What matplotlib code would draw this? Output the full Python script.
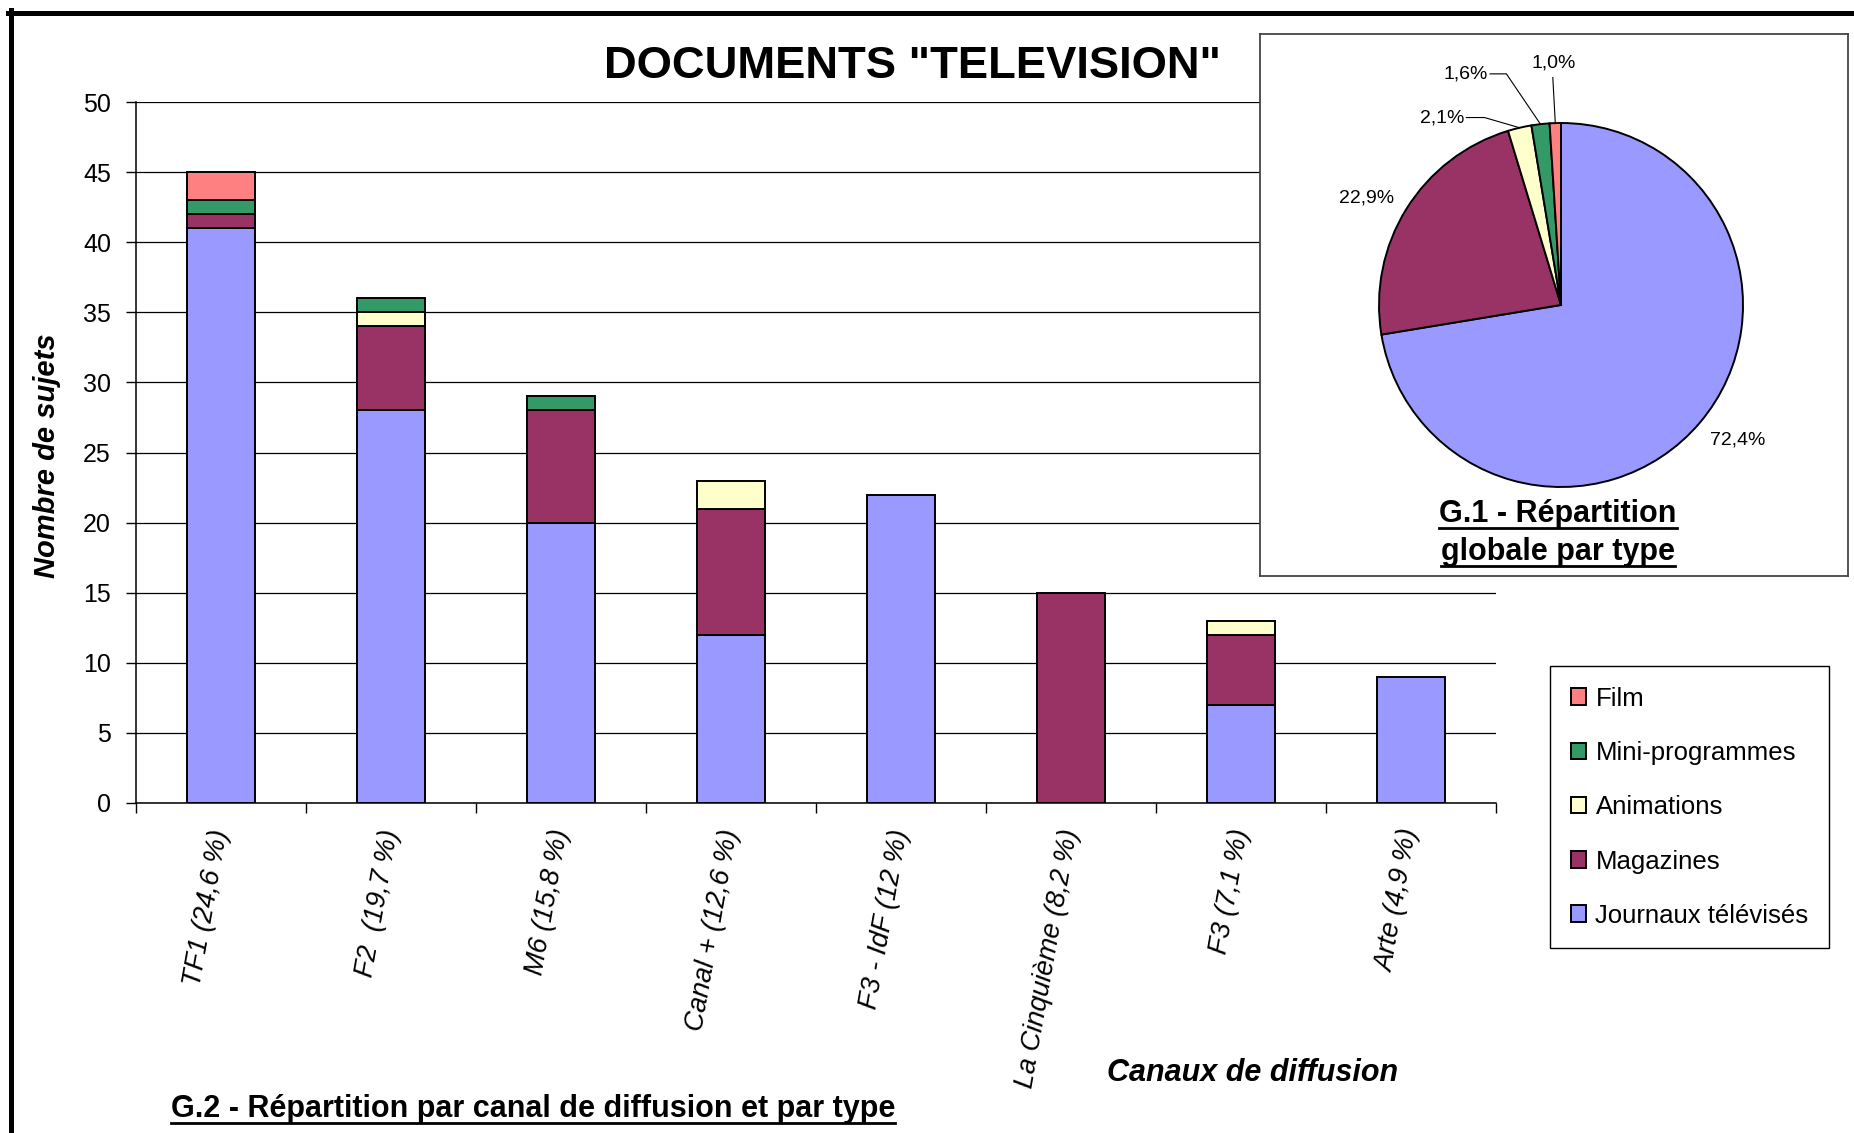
import numpy as np
import matplotlib
matplotlib.use('Agg')
import matplotlib.pyplot as plt
from matplotlib.lines import Line2D

plt.rcParams['font.family'] = ['Liberation Sans', 'DejaVu Sans']

# Data
canaux = ['TF1 (24,6 %)', 'F2  (19,7 %)', 'M6 (15,8 %)', 'Canal + (12,6 %)',
          'F3 - IdF (12 %)', 'La Cinquième (8,2 %)', 'F3 (7,1 %)', 'Arte (4,9 %)']
types = ['Journaux télévisés', 'Magazines', 'Animations', 'Mini-programmes', 'Film']
couleurs = ['#9999FF', '#993366', '#FFFFCC', '#339966', '#FF8080']

journaux = [41, 28, 20, 12, 22, 0, 7, 9]
magazines = [1, 6, 8, 9, 0, 15, 5, 0]
animations = [0, 1, 0, 2, 0, 0, 1, 0]
mini_prog = [1, 1, 1, 0, 0, 0, 0, 0]
film = [2, 0, 0, 0, 0, 0, 0, 0]

pie_pct = [72.4, 22.9, 2.1, 1.6, 1.0]
pie_labels = ['72,4%', '22,9%', '2,1%', '1,6%', '1,0%']

W, H = 1854, 1133
fig = plt.figure(figsize=(W / 100, H / 100), dpi=100)

# Bar chart G.2
ax = fig.add_axes([136 / W, 1 - 803 / H, (1496 - 136) / W, (803 - 102) / H])
x = np.arange(len(canaux))
bottom = np.zeros(len(canaux))
handles = []
for vals, col, lab in zip([journaux, magazines, animations, mini_prog, film], couleurs, types):
    vals = np.array(vals, float)
    m = vals > 0
    b = ax.bar(x[m], vals[m], 0.4, bottom=bottom[m], color=col, edgecolor='black',
               linewidth=1.4, label=lab, zorder=3)
    handles.append(b)
    bottom += vals

ax.set_xlim(-0.5, 7.5)
ax.set_ylim(0, 50)
ax.set_yticks(range(0, 51, 5))
ax.yaxis.grid(True, color='black', linewidth=0.9)
ax.tick_params(axis='y', labelsize=18, length=7, width=1, pad=11)
ax.set_xticks(x)
ax.set_xticklabels(canaux, rotation=80, ha='right', va='center', rotation_mode='anchor',
                   fontstyle='italic', fontsize=19.5)
ax.tick_params(axis='x', which='major', length=0, pad=19)
ax.set_xticks(np.arange(-0.5, 8, 1), minor=True)
ax.tick_params(axis='x', which='minor', length=7, width=1)
for s in ['top', 'right']:
    ax.spines[s].set_visible(False)
ax.spines['left'].set_linewidth(1.1)
ax.spines['bottom'].set_linewidth(1.1)

fig.text(47 / W, 1 - 456 / H, 'Nombre de sujets', rotation=90, ha='center', va='center',
         fontsize=21, fontweight='bold', fontstyle='italic')
fig.text(1253 / W, 1 - 1073 / H, 'Canaux de diffusion', ha='center', va='center',
         fontsize=22, fontweight='bold', fontstyle='italic')
fig.text(912 / W, 1 - 66 / H, 'DOCUMENTS "TELEVISION"', ha='center', va='center',
         fontsize=32.7, fontweight='bold')
g2 = fig.text(533 / W, 1 - 1109 / H, 'G.2 - Répartition par canal de diffusion et par type',
              ha='center', va='center', fontsize=22, fontweight='bold')

# legend
fig.legend(handles[::-1], types[::-1], loc='upper left', bbox_to_anchor=(1550 / W, 1 - 666 / H),
           frameon=True, fancybox=False, edgecolor='black', framealpha=1, fontsize=18.5,
           handlelength=0.62, handleheight=0.62, labelspacing=1.18, borderpad=0.8,
           handletextpad=0.35, borderaxespad=0)

# Pie box G.1
box = fig.add_axes([1260 / W, 1 - 576 / H, 588 / W, 542 / H], zorder=2)
box.set_xticks([])
box.set_yticks([])
for s in box.spines.values():
    s.set_color('#444444')
    s.set_linewidth(1.3)
g1a = box.text(0.507, 0.114, 'G.1 - Répartition', ha='center', va='center',
               fontsize=22, fontweight='bold', transform=box.transAxes)
g1b = box.text(0.507, 0.044, 'globale par type', ha='center', va='center',
               fontsize=22, fontweight='bold', transform=box.transAxes)

pax = fig.add_axes([(1561 - 182) / W, 1 - (305 + 182) / H, 364 / W, 364 / H], zorder=3)
wedges, _ = pax.pie(pie_pct, colors=couleurs, startangle=90, counterclock=False,
                    wedgeprops=dict(edgecolor='black', linewidth=1.4))
pax.set_xlim(-1, 1)
pax.set_ylim(-1, 1)
pax.set_aspect('equal')

for w, lab in zip(wedges, pie_labels):
    mid = np.deg2rad((w.theta1 + w.theta2) / 2)
    ex, ey = np.cos(mid), np.sin(mid)
    if lab in ('72,4%', '22,9%'):
        a = mid + np.deg2rad(3)
        pax.text(1.22 * np.cos(a), 1.22 * np.sin(a), lab, ha='center', va='center', fontsize=14)
    elif lab == '2,1%':
        pax.text(-0.53, 1.03, lab, ha='right', va='center', fontsize=14)
        pax.plot([-0.52, -0.42, ex], [1.03, 1.03, ey], color='black', lw=0.8, clip_on=False)
    elif lab == '1,6%':
        pax.text(-0.40, 1.27, lab, ha='right', va='center', fontsize=14)
        pax.plot([-0.39, -0.30, ex], [1.27, 1.27, ey], color='black', lw=0.8, clip_on=False)
    else:
        pax.text(-0.04, 1.33, lab, ha='center', va='center', fontsize=14)
        pax.plot([-0.045, ex], [1.25, ey], color='black', lw=0.8, clip_on=False)

# outer frame (top and left)
fig.add_artist(Line2D([8 / W, 1], [1 - 12.5 / H] * 2, transform=fig.transFigure, color='black', lw=3.6))
fig.add_artist(Line2D([10.5 / W] * 2, [0, 1 - 10 / H], transform=fig.transFigure, color='black', lw=3.6))

# underlines
fig.canvas.draw()
renderer = fig.canvas.get_renderer()
for t in [g2, g1a, g1b]:
    bb = t.get_window_extent(renderer)
    y = (bb.y0 + 1.5) / H
    fig.add_artist(Line2D([bb.x0 / W, bb.x1 / W], [y, y], transform=fig.transFigure,
                          color='black', lw=2, zorder=5))

fig.savefig('out.png', dpi=100)
